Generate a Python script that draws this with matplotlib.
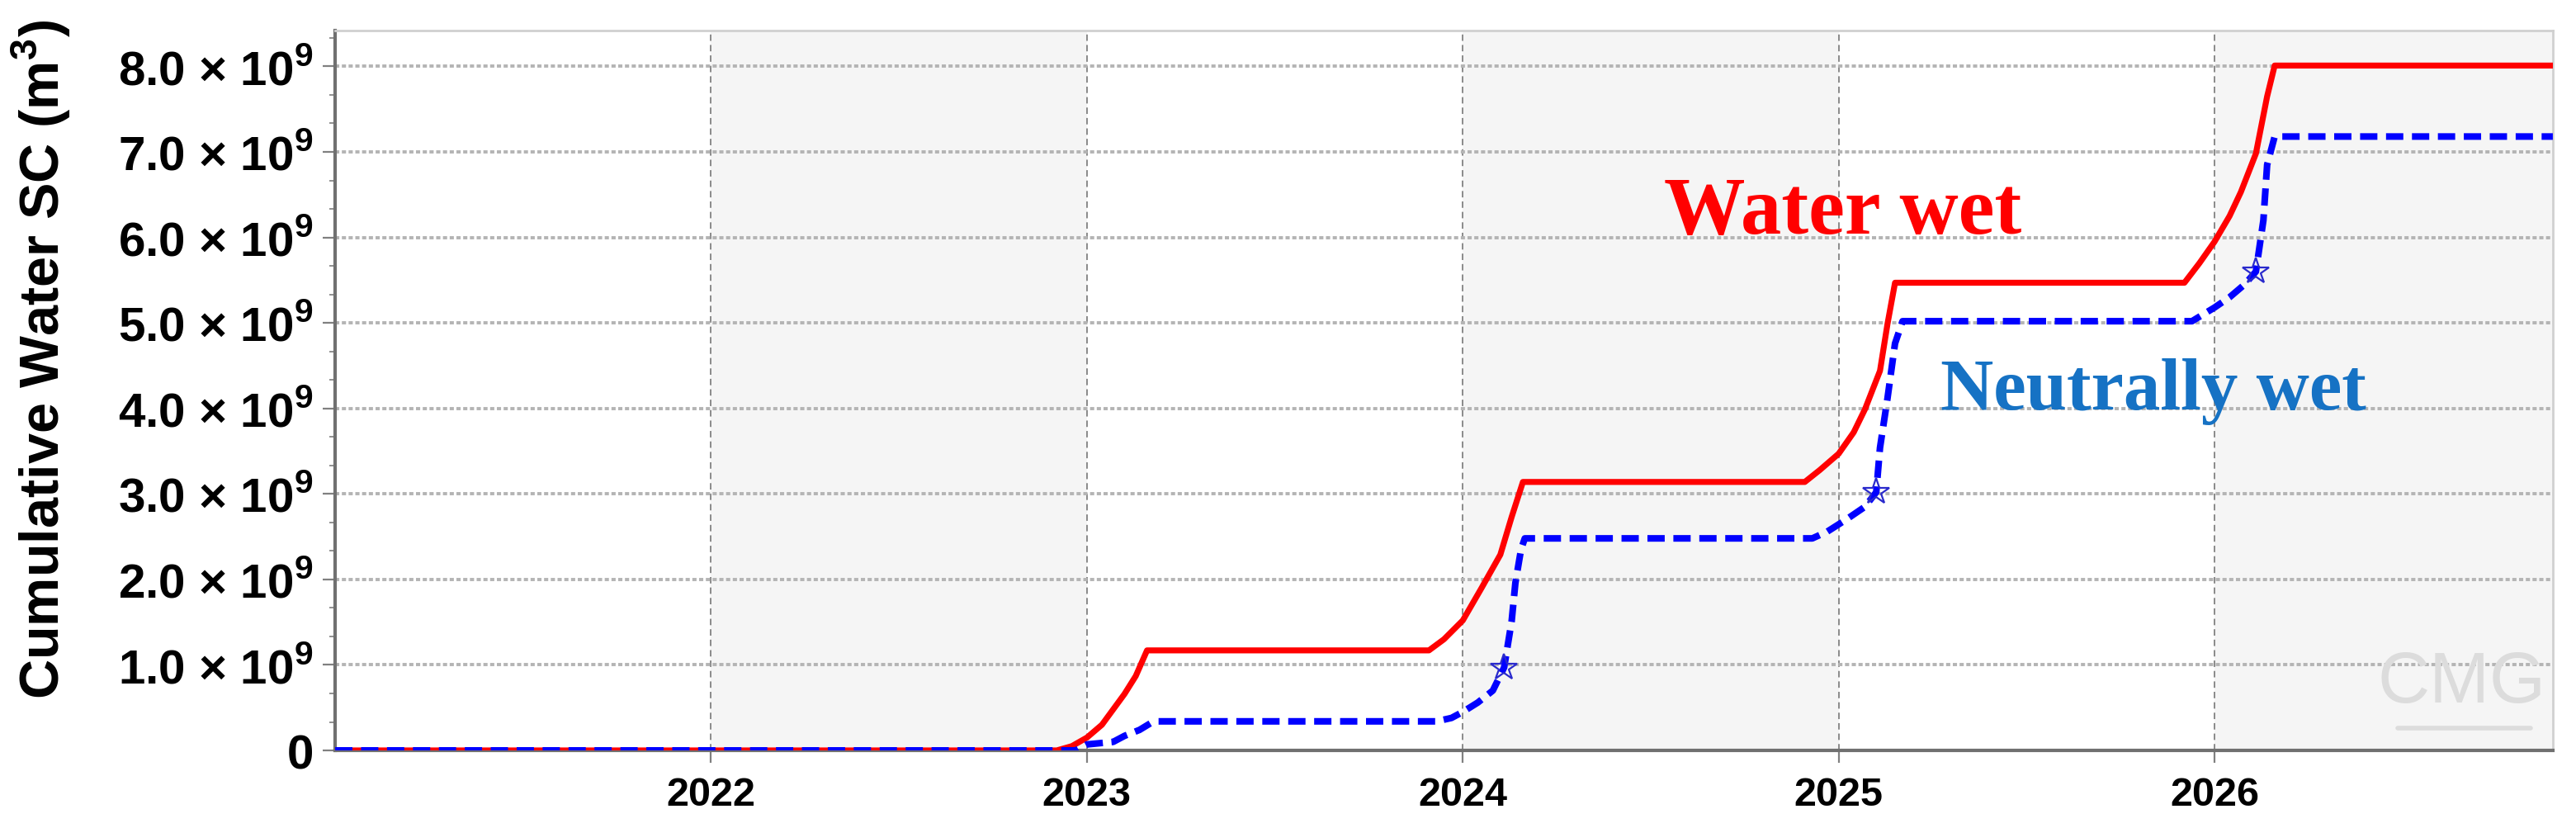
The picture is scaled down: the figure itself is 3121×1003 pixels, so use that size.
"""Cumulative water (surface conditions) for water-wet vs neutrally-wet cases."""
import matplotlib
matplotlib.use("Agg")
import matplotlib.pyplot as plt
from matplotlib.ticker import FixedLocator, MultipleLocator, FuncFormatter

plt.rcParams["mathtext.fontset"] = "custom"
plt.rcParams["mathtext.rm"] = "Liberation Sans"
plt.rcParams["mathtext.bf"] = "Liberation Sans:bold"

# --- data (time in decimal years, volume in 1e9 m3) ---
water_wet_t = [2021.0, 2022.92, 2022.96, 2023.0, 2023.04, 2023.07, 2023.10, 2023.13, 2023.16,
               2023.91, 2023.95, 2024.0, 2024.05, 2024.10, 2024.13, 2024.16,
               2024.91, 2024.95, 2025.0, 2025.04, 2025.07, 2025.11, 2025.13, 2025.15,
               2025.92, 2025.96, 2026.0, 2026.04, 2026.07, 2026.11, 2026.14, 2026.16, 2026.90]
water_wet_v = [0.0, 0.0, 0.05, 0.15, 0.30, 0.48, 0.66, 0.87, 1.17,
               1.17, 1.30, 1.52, 1.90, 2.29, 2.73, 3.14,
               3.14, 3.28, 3.47, 3.72, 3.99, 4.44, 4.99, 5.47,
               5.47, 5.70, 5.95, 6.25, 6.53, 6.98, 7.65, 8.01, 8.01]

neutral_t = [2021.0, 2022.97, 2023.0, 2023.07, 2023.10, 2023.14, 2023.17, 2023.19,
             2023.93, 2023.97, 2024.0, 2024.04, 2024.08, 2024.11, 2024.13, 2024.14, 2024.155, 2024.165,
             2024.93, 2024.97, 2025.02, 2025.07, 2025.10, 2025.11, 2025.13, 2025.15, 2025.17,
             2025.94, 2026.0, 2026.04, 2026.08, 2026.11, 2026.12, 2026.13, 2026.14, 2026.16, 2026.90]
neutral_v = [0.0, 0.0, 0.07, 0.10, 0.17, 0.24, 0.32, 0.34,
             0.34, 0.38, 0.45, 0.56, 0.70, 0.97, 1.51, 1.96, 2.35, 2.48,
             2.48, 2.56, 2.70, 2.85, 3.02, 3.54, 4.12, 4.76, 5.02,
             5.02, 5.18, 5.30, 5.45, 5.60, 5.90, 6.20, 6.85, 7.18, 7.18]

star_t = [2024.11, 2025.10, 2026.11]
star_v = [0.97, 3.02, 5.60]

years = [2022, 2023, 2024, 2025, 2026]
y_ticks = [0, 1, 2, 3, 4, 5, 6, 7, 8]
x_range = (2021.0, 2026.90)
y_range = (0, 8.42)

SCALE = 1e9


def ytick_fmt(v, _):
    if abs(v) < 1e-6:
        return "0"
    return r"%.1f × 10$^{\mathbf{9}}$" % (v / SCALE)


def main():
    fig = plt.figure(figsize=(31.21, 10.04), dpi=100)
    ax = fig.add_axes([0.1301, 0.0936, 0.8609, 0.8686])

    # alternating year bands
    band_edges = years + [x_range[1]]
    for i in range(0, len(band_edges) - 1, 2):
        ax.axvspan(band_edges[i], band_edges[i + 1], color="#f5f5f5", zorder=0, lw=0)

    ax.plot(water_wet_t, [v * SCALE for v in water_wet_v], color="#ff0000", lw=5.2,
            solid_joinstyle="round", zorder=3)
    ax.plot(neutral_t, [v * SCALE for v in neutral_v], color="#0000ff", lw=5.8,
            ls=(0, (2.6, 1.3)), zorder=4)
    ax.plot(star_t, [v * SCALE for v in star_v], ls="", marker="*", ms=24,
            mfc="none", mec="#2a2acc", mew=1.6, zorder=5)

    ax.set_xlim(*x_range)
    ax.set_ylim(y_range[0] * SCALE, y_range[1] * SCALE)
    ax.xaxis.set_major_locator(FixedLocator(years))
    ax.set_xticklabels([str(y) for y in years])
    ax.yaxis.set_major_locator(FixedLocator([t * SCALE for t in y_ticks]))
    ax.yaxis.set_minor_locator(MultipleLocator(SCALE / 3))
    ax.yaxis.set_major_formatter(FuncFormatter(ytick_fmt))

    ax.set_axisbelow(True)
    ax.grid(axis="y", which="major", color="#b4b4b4", lw=2.8, ls=(0, (1.3, 0.8)))
    ax.grid(axis="x", which="major", color="#8a8a8a", lw=1.4, ls=(0, (4, 2.5)))

    for side in ("left", "bottom"):
        ax.spines[side].set_color("#707070")
        ax.spines[side].set_linewidth(3.0)
    for side in ("top", "right"):
        ax.spines[side].set_color("#d0d0d0")
        ax.spines[side].set_linewidth(2.0)

    ax.tick_params(axis="y", which="major", length=11, width=1.6, color="#808080", pad=8)
    ax.tick_params(axis="y", which="minor", length=5, width=1.4, color="#909090")
    ax.tick_params(axis="x", which="major", length=11, width=1.6, color="#808080", pad=11)
    for lab in ax.get_yticklabels():
        lab.set_fontfamily(["Liberation Sans", "DejaVu Sans"])
        lab.set_fontweight("bold")
        lab.set_fontsize(42)
    for lab in ax.get_xticklabels():
        lab.set_fontfamily(["Liberation Sans Narrow", "Liberation Sans", "DejaVu Sans"])
        lab.set_fontweight("bold")
        lab.set_fontsize(35)

    fig.text(0.016, 0.566, r"Cumulative Water SC (m$^{\mathbf{3}}$)", rotation=90,
             ha="center", va="center", fontsize=48, fontweight="bold",
             family=["Liberation Sans", "DejaVu Sans"])

    ax.text(2024.535, 6.05 * SCALE, "Water wet", color="#ff0000", fontsize=71,
            fontweight="bold", family=["Liberation Serif", "DejaVu Serif"],
            ha="left", va="baseline", zorder=6)
    ax.text(2025.27, 4.0 * SCALE, "Neutrally wet", color="#1672c4", fontsize=64,
            fontweight="bold", family=["Liberation Serif", "DejaVu Serif"],
            ha="left", va="baseline", zorder=6)

    # CMG watermark
    ax.text(0.959, 0.094, "CMG", transform=ax.transAxes, color="#dcdcdc", fontsize=63,
            family=["Liberation Sans Narrow", "Liberation Sans"], ha="center", va="center",
            zorder=1)
    ax.plot([0.930, 0.990], [0.031, 0.031], transform=ax.transAxes, color="#dcdcdc",
            lw=4, solid_capstyle="round", zorder=1)

    fig.savefig("out.png", dpi=100, facecolor="white")


if __name__ == "__main__":
    main()
